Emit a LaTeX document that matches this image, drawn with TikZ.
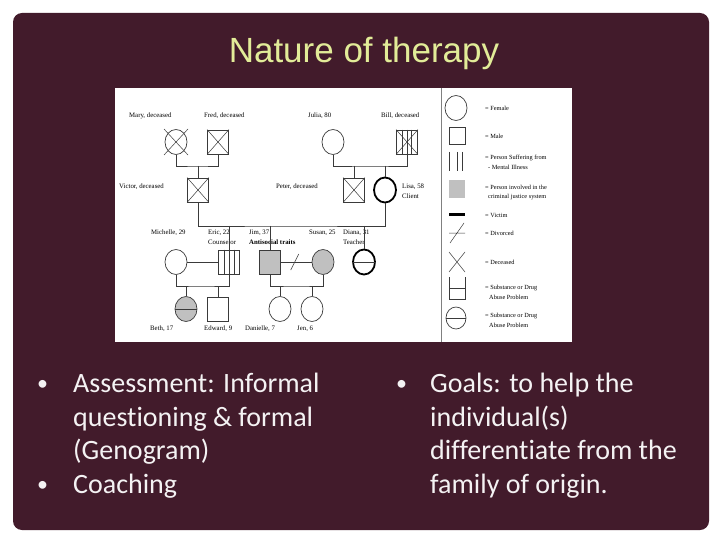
\documentclass[tikz,border=0pt]{standalone}
\usepackage{fontspec}
\usetikzlibrary{shapes.geometric,calc}
\newfontfamily\titlefont{Liberation Sans}
\newfontfamily\bodyfont[Ligatures=NoCommon]{Carlito}
\newfontfamily\genofont{Liberation Serif}
\definecolor{slidebg}{HTML}{421B2B}
\definecolor{titlecol}{HTML}{E2EC98}
\definecolor{bodycol}{HTML}{F4F2F3}
\definecolor{linec}{HTML}{3A3A3A}
\definecolor{grayfill}{HTML}{C0C0C0}
\tikzset{
  fem/.style={ellipse, draw=linec, line width=0.7pt, minimum width=22pt, minimum height=25pt, inner sep=0pt},
  mal/.style={rectangle, draw=linec, line width=0.7pt, minimum width=21pt, minimum height=24pt, inner sep=0pt},
  conn/.style={draw=linec, line width=0.7pt},
  glbl/.style={font=\genofont\fontsize{6.8}{8}\selectfont, inner sep=0pt, anchor=west, text=black},
  leg/.style={font=\genofont\fontsize{6.3}{7.5}\selectfont, inner sep=0pt, anchor=west, text=black},
  bul/.style={font=\bodyfont\fontsize{28}{34}\selectfont, text=bodycol, inner sep=0pt, anchor=base west},
  bdot/.style={font=\bodyfont\fontsize{22}{26}\selectfont, text=bodycol, inner sep=0pt, anchor=base west},
}
\begin{document}
\begin{tikzpicture}[x=1pt,y=-1pt]
\useasboundingbox (0,0) rectangle (720,540);
\fill[white] (0,0) rectangle (720,540);
\fill[slidebg, rounded corners=9pt] (13,13) rectangle (709,530);
\node[font=\titlefont\fontsize{35}{40}\selectfont, text=titlecol, anchor=base, inner sep=0pt] (title) at (364,63) {Nature of therapy};

% genogram panels
\fill[white] (115,88) rectangle (441,342);
\fill[white] (441,88) rectangle (572,342);
\draw[gray, line width=0.8pt] (441,88) -- (441,342);

% generation 1
\node[fem] (mary) at (176,142) {};
\node[mal] (fred) at (218,142) {};
\node[fem] (julia) at (333,142) {};
\node[mal] (bill) at (407,142) {};
\draw[linec, line width=0.5pt] (164,129) -- (188,155) (164,155) -- (188,129);
\draw[linec, line width=0.5pt] (fred.north west) -- (fred.south east) (fred.south west) -- (fred.north east);
\draw[linec, line width=0.5pt] (bill.north west) -- (bill.south east) (bill.south west) -- (bill.north east);
\foreach \d in {-5,0,4} \draw[linec, line width=0.7pt] ([xshift=\d pt]bill.north) -- ([xshift=\d pt]bill.south);
\node[glbl] (lmary) at (129,116) {Mary, deceased};
\node[glbl] (lfred) at (204,116) {Fred, deceased};
\node[glbl] (ljulia) at (308,116) {Julia, 80};
\node[glbl] (lbill) at (381,116) {Bill, deceased};

\coordinate (mf) at (198,166);
\coordinate (jb) at (370,166);
\draw[conn] (mary.south) |- (mf) -| (fred.south);
\draw[conn] (julia.south) |- (jb) -| (bill.south);

% generation 2
\node[mal] (victor) at (198,190) {};
\node[mal] (peter) at (354,190) {};
\node[fem, line width=1.8pt, draw=black] (lisa) at (385,190) {};
\draw[linec, line width=0.5pt] (victor.north west) -- (victor.south east) (victor.south west) -- (victor.north east);
\draw[linec, line width=0.5pt] (peter.north west) -- (peter.south east) (peter.south west) -- (peter.north east);
\node[glbl] (lvictor) at (119,187) {Victor, deceased};
\node[glbl] (lpeter) at (276,187) {Peter, deceased};
\node[glbl] (llisa) at (402,187) {Lisa, 58};
\node[glbl] (llisa2) at (402,196) {Client};
\draw[conn] (mf) -- (victor.north);
\draw[conn] (peter.north |- jb) -- (peter.north);
\draw[conn] (lisa.north |- jb) -- (lisa.north);

\coordinate (vl) at (290,226);
\draw[conn] (victor.south) |- (vl) -| (lisa.south);

% generation 3
\node[fem] (michelle) at (176,262) {};
\node[mal] (eric) at (229,262) {};
\node[mal, fill=grayfill] (jim) at (270,262) {};
\node[fem, fill=grayfill] (susan) at (323,262) {};
\node[fem, line width=1.8pt, draw=black] (diana) at (364,262) {};
\foreach \d in {-5,0,5} \draw[linec, line width=0.7pt] ([xshift=\d pt]eric.north) -- ([xshift=\d pt]eric.south);
\draw[linec, line width=0.7pt] (diana.west) -- (diana.east);
\node[glbl] (lmichelle) at (151,233) {Michelle, 29};
\node[glbl] (leric) at (208,233) {Eric, 22};
\node[glbl] (leric2) at (208,242) {Counselor};
\node[glbl] (ljim) at (249,233) {Jim, 37};
\node[glbl, font=\genofont\bfseries\fontsize{6.8}{8}\selectfont] (ljim2) at (249,242) {Antisocial traits};
\node[glbl] (lsusan) at (309,233) {Susan, 25};
\node[glbl] (ldiana) at (343,233) {Diana, 31};
\node[glbl] (ldiana2) at (343,242) {Teacher};
\draw[conn] (eric.north |- vl) -- (eric.north);
\draw[conn] (jim.north |- vl) -- (jim.north);
\draw[conn] (diana.north |- vl) -- (diana.north);
\draw[conn] (michelle.east) -- (eric.west);
\draw[conn] (jim.east) -- (susan.west);
\coordinate (div) at ($(jim.east)!0.45!(susan.west)$);
\draw[linec, line width=0.6pt] ($(div)+(-4,8)$) -- ($(div)+(4,-8)$);

\coordinate (me) at (200,286);
\coordinate (js) at (296,286);
\draw[conn] (michelle.south) |- (me) -| (eric.south);
\draw[conn] (jim.south) |- (js) -| (susan.south);

% generation 4
\node[fem, fill=grayfill] (beth) at (186,309) {};
\node[mal] (edward) at (218,309) {};
\node[fem] (danielle) at (280,309) {};
\node[fem] (jen) at (312,309) {};
\draw[linec, line width=0.7pt] (beth.west) -- (beth.east);
\draw[conn] (beth.north |- me) -- (beth.north);
\draw[conn] (edward.north |- me) -- (edward.north);
\draw[conn] (danielle.north |- js) -- (danielle.north);
\draw[conn] (jen.north |- js) -- (jen.north);
\node[glbl] (lbeth) at (150,329) {Beth, 17};
\node[glbl] (ledward) at (204,329) {Edward, 9};
\node[glbl] (ldanielle) at (245,329) {Danielle, 7};
\node[glbl] (ljen) at (297,329) {Jen, 6};

% legend
\node[fem] (lgfem) at (456,108) {};
\node[mal, minimum width=16pt, minimum height=17pt] (lgmal) at (457,135.5) {};
\draw[linec, line width=0.8pt] (449,152) -- (449,171) (457,152) -- (457,171) (462,152) -- (462,171);
\node[rectangle, fill=grayfill, minimum width=16pt, minimum height=18pt, inner sep=0pt] (lgcrim) at (457,189) {};
\fill[black] (449,213.5) rectangle (465,216.5);
\draw[linec, line width=0.5pt] (449,233) -- (465,233) (450,243) -- (464,223);
\draw[linec, line width=0.5pt] (449,252) -- (465,272) (449,272) -- (465,252);
\draw[linec, line width=0.6pt] (449,277) -- (449,299) -- (465,299) -- (465,277) (449,288) -- (465,288);
\node[fem, minimum width=20pt, minimum height=22pt] (lgsub) at (456,318) {};
\draw[linec, line width=0.6pt] (lgsub.west) -- (lgsub.east);

\node[leg] (t1) at (485,108) {= Female};
\node[leg] (t2) at (485,136) {= Male};
\node[leg] (t3) at (485,158) {= Person Suffering from};
\node[leg] (t3b) at (488,167) {- Mental Illness};
\node[leg] (t4) at (485,187) {= Person involved in the};
\node[leg] (t4b) at (488,197) {criminal justice system};
\node[leg] (t5) at (485,215) {= Victim};
\node[leg] (t6) at (485,233) {= Divorced};
\node[leg] (t7) at (485,262) {= Deceased};
\node[leg] (t8) at (485,288) {= Substance or Drug};
\node[leg] (t8b) at (489,297) {Abuse Problem};
\node[leg] (t9) at (485,316) {= Substance or Drug};
\node[leg] (t9b) at (489,325) {Abuse Problem};

% bullets
\node[bdot] (b1) at (37,390) {\textbullet};
\node[bul] (l1) at (73,392) {Assessment: Informal};
\node[bul] (l2) at (73,426) {questioning \& formal};
\node[bul] (l3) at (73,459) {(Genogram)};
\node[bdot] (b2) at (37,491) {\textbullet};
\node[bul] (l4) at (73,493) {Coaching};

\node[bdot] (b3) at (396,390) {\textbullet};
\node[bul] (r1) at (430,392) {Goals: to help the};
\node[bul] (r2) at (430,426) {individual(s)};
\node[bul] (r3) at (430,459) {differentiate from the};
\node[bul] (r4) at (430,493) {family of origin.};
\end{tikzpicture}
\end{document}
